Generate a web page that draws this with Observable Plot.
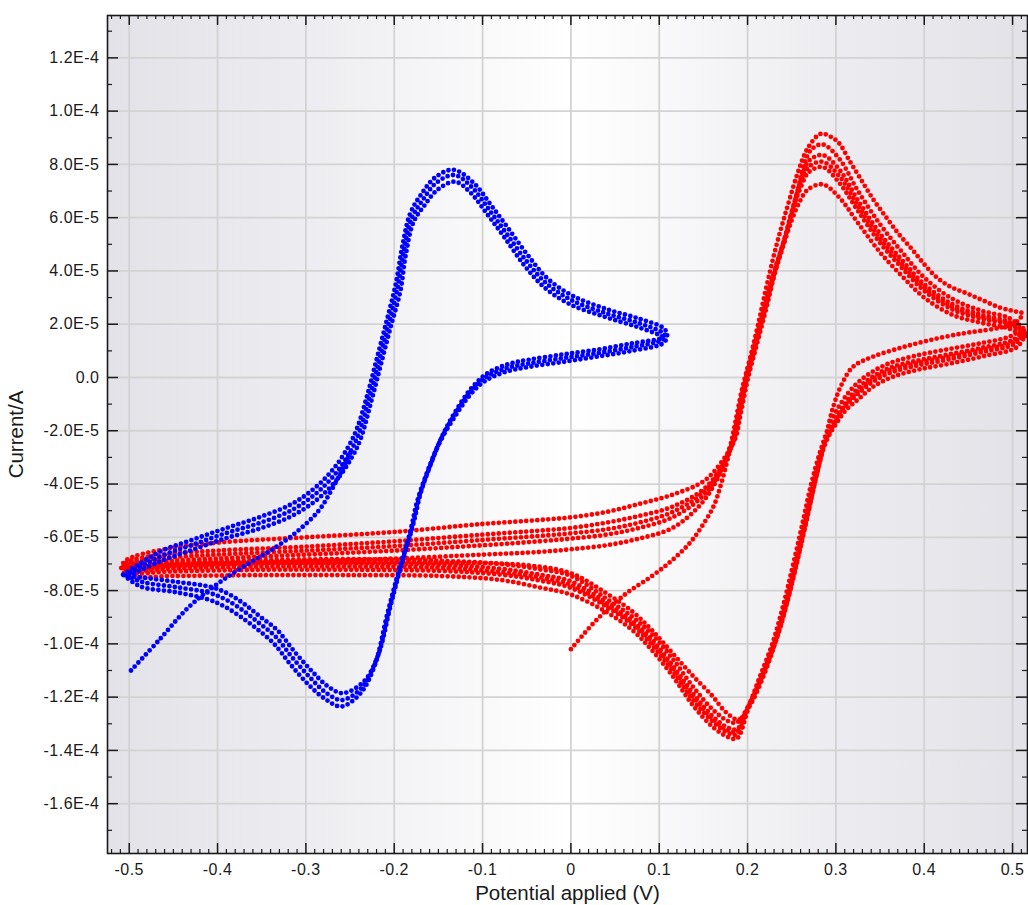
<!DOCTYPE html>
<html>
<head>
<meta charset="utf-8">
<script src="https://cdn.jsdelivr.net/npm/d3@7"></script>
<script src="https://cdn.jsdelivr.net/npm/@observablehq/plot@0.6"></script>
<style>
  body { margin: 0; background: #ffffff; }
  #chart svg { display: block; }
</style>
</head>
<body>
<div id="chart"></div>
<script>
// ---------- DATA (potential in V, current in units of 1E-5 A) ----------
// Blue voltammogram
const blueStart = [[-0.498,-11.0],[-0.466,-9.85],[-0.432,-8.6],[-0.398,-7.7],[-0.364,-6.97],[-0.334,-6.37],[-0.308,-5.73],[-0.285,-4.98],[-0.271,-4.23],[-0.259,-3.47],[-0.248,-2.7]];
const blueCycleA = [[-0.504,-7.42],[-0.466,-6.74],[-0.429,-6.29],[-0.390,-5.84],[-0.353,-5.47],[-0.316,-4.98],[-0.288,-4.34],[-0.266,-3.59],[-0.250,-2.8],[-0.240,-2.09],[-0.228,-0.74],[-0.217,0.64],[-0.206,2.04],[-0.196,3.39],[-0.189,4.78],[-0.180,6.0],[-0.168,6.65],[-0.153,7.29],[-0.132,7.6],[-0.112,7.14],[-0.092,6.27],[-0.073,5.41],[-0.051,4.40],[-0.028,3.54],[0.001,2.90],[0.040,2.41],[0.077,2.04],[0.103,1.70],[0.107,1.55],[0.103,1.40],[0.069,1.14],[0.029,0.91],[-0.010,0.72],[-0.047,0.53],[-0.073,0.35],[-0.096,0.01],[-0.112,-0.48],[-0.126,-1.11],[-0.146,-2.24],[-0.160,-3.36],[-0.172,-4.49],[-0.180,-5.62],[-0.194,-7.23],[-0.206,-8.73],[-0.220,-10.60],[-0.236,-11.62],[-0.259,-12.11],[-0.277,-11.84],[-0.296,-11.24],[-0.316,-10.49],[-0.334,-9.74],[-0.353,-9.22],[-0.372,-8.73],[-0.390,-8.35],[-0.409,-8.09],[-0.447,-7.87],[-0.485,-7.68],[-0.504,-7.42]];
const blueCycleB = [[-0.507,-7.4],[-0.466,-6.55],[-0.429,-6.1],[-0.390,-5.65],[-0.353,-5.25],[-0.316,-4.75],[-0.290,-4.15],[-0.268,-3.4],[-0.252,-2.6],[-0.242,-1.9],[-0.230,-0.6],[-0.219,0.8],[-0.208,2.2],[-0.198,3.55],[-0.191,4.9],[-0.182,6.15],[-0.170,6.85],[-0.154,7.5],[-0.133,7.8],[-0.110,7.3],[-0.090,6.45],[-0.071,5.6],[-0.049,4.6],[-0.026,3.7],[0.003,3.05],[0.042,2.55],[0.078,2.2],[0.105,1.85],[0.109,1.6],[0.105,1.3],[0.069,1.0],[0.029,0.78],[-0.010,0.58],[-0.047,0.4],[-0.075,0.2],[-0.098,-0.15],[-0.114,-0.65],[-0.128,-1.3],[-0.148,-2.4],[-0.162,-3.5],[-0.174,-4.65],[-0.182,-5.8],[-0.196,-7.4],[-0.208,-8.9],[-0.222,-10.8],[-0.238,-11.85],[-0.260,-12.35],[-0.279,-12.05],[-0.298,-11.5],[-0.318,-10.75],[-0.336,-10.0],[-0.355,-9.45],[-0.374,-8.98],[-0.392,-8.6],[-0.411,-8.33],[-0.449,-8.05],[-0.487,-7.85],[-0.507,-7.4]];
const blueCycleC = [[-0.500,-7.45],[-0.466,-6.92],[-0.429,-6.48],[-0.390,-6.03],[-0.353,-5.68],[-0.316,-5.2],[-0.286,-4.55],[-0.264,-3.8],[-0.248,-3.0],[-0.238,-2.3],[-0.226,-0.9],[-0.215,0.5],[-0.204,1.9],[-0.193,3.25],[-0.187,4.6],[-0.178,5.85],[-0.166,6.45],[-0.151,7.05],[-0.131,7.35],[-0.114,6.95],[-0.094,6.1],[-0.075,5.25],[-0.053,4.22],[-0.030,3.38],[-0.001,2.75],[0.038,2.28],[0.075,1.9],[0.101,1.58],[0.104,1.5],[0.101,1.45],[0.069,1.28],[0.029,1.04],[-0.010,0.86],[-0.047,0.67],[-0.071,0.5],[-0.094,0.17],[-0.110,-0.3],[-0.124,-0.92],[-0.144,-2.08],[-0.158,-3.2],[-0.170,-4.33],[-0.178,-5.45],[-0.192,-7.05],[-0.204,-8.55],[-0.218,-10.4],[-0.234,-11.4],[-0.258,-11.85],[-0.275,-11.6],[-0.294,-11.0],[-0.314,-10.25],[-0.332,-9.5],[-0.351,-9.0],[-0.370,-8.5],[-0.388,-8.12],[-0.407,-7.87],[-0.445,-7.68],[-0.483,-7.52],[-0.500,-7.45]];

// Red voltammogram
const redFirst = [[0.000,-10.2],[0.032,-9.0],[0.063,-8.1],[0.092,-7.45],[0.115,-6.85],[0.135,-6.2],[0.150,-5.5],[0.162,-4.8],[0.170,-4.0],[0.178,-3.0],[0.185,-2.0],[0.192,-0.8],[0.202,0.6],[0.212,2.0],[0.222,3.5],[0.233,5.0],[0.245,6.4],[0.257,7.7],[0.268,8.6],[0.283,9.15],[0.296,9.0],[0.304,8.78],[0.316,8.1],[0.327,7.51],[0.342,6.7],[0.357,6.01],[0.372,5.35],[0.387,4.78],[0.400,4.25],[0.414,3.76],[0.430,3.4],[0.448,3.16],[0.466,2.9],[0.485,2.63],[0.500,2.5],[0.511,2.4],[0.505,2.1],[0.490,1.9],[0.470,1.78],[0.443,1.65],[0.406,1.40],[0.372,1.10],[0.341,0.77],[0.319,0.39],[0.306,-0.3],[0.297,-1.1],[0.288,-2.3],[0.278,-3.7],[0.267,-5.3],[0.256,-6.9],[0.245,-8.4],[0.232,-9.9],[0.217,-11.3],[0.203,-12.3],[0.190,-12.85],[0.175,-12.55],[0.160,-11.95],[0.138,-11.2],[0.115,-10.35],[0.092,-9.5],[0.070,-8.8],[0.040,-8.1],[0.000,-7.35],[-0.050,-7.05],[-0.150,-6.95],[-0.300,-6.95],[-0.450,-7.0],[-0.505,-7.2]];
const redCycleA = [[0.512,1.85],[0.495,2.25],[0.465,2.5],[0.432,2.95],[0.400,3.75],[0.375,4.7],[0.350,5.75],[0.325,7.0],[0.304,8.2],[0.285,8.75],[0.272,8.55],[0.264,8.0],[0.256,6.9],[0.245,5.5],[0.233,4.2],[0.222,2.7],[0.211,1.3],[0.200,-0.1],[0.192,-1.4],[0.186,-2.3],[0.170,-3.2],[0.150,-3.9],[0.115,-4.4],[0.077,-4.75],[0.040,-5.05],[0.000,-5.25],[-0.036,-5.35],[-0.100,-5.5],[-0.200,-5.8],[-0.300,-6.0],[-0.400,-6.2],[-0.460,-6.45],[-0.503,-6.85],[-0.509,-7.15],[-0.500,-7.45],[-0.450,-7.45],[-0.350,-7.42],[-0.250,-7.42],[-0.150,-7.45],[-0.080,-7.6],[-0.036,-7.88],[0.000,-8.15],[0.040,-8.8],[0.070,-9.5],[0.092,-10.25],[0.115,-11.2],[0.138,-12.3],[0.160,-13.1],[0.178,-13.5],[0.188,-13.55],[0.200,-12.5],[0.212,-11.4],[0.228,-10.0],[0.240,-8.6],[0.251,-7.1],[0.262,-5.5],[0.272,-4.0],[0.283,-2.7],[0.294,-1.7],[0.306,-0.95],[0.320,-0.35],[0.336,0.1],[0.358,0.5],[0.388,0.8],[0.425,1.05],[0.463,1.28],[0.498,1.55],[0.512,1.85]];
const redCycleB = [[0.513,1.75],[0.495,2.1],[0.465,2.35],[0.432,2.75],[0.400,3.5],[0.375,4.4],[0.350,5.4],[0.325,6.65],[0.304,7.8],[0.285,8.35],[0.270,8.15],[0.262,7.6],[0.254,6.7],[0.243,5.35],[0.231,4.0],[0.220,2.6],[0.209,1.2],[0.198,-0.2],[0.190,-1.5],[0.184,-2.4],[0.170,-3.4],[0.150,-4.2],[0.115,-4.85],[0.077,-5.2],[0.040,-5.45],[0.000,-5.65],[-0.036,-5.75],[-0.100,-5.9],[-0.200,-6.15],[-0.300,-6.35],[-0.400,-6.5],[-0.460,-6.65],[-0.503,-6.95],[-0.507,-7.15],[-0.500,-7.32],[-0.450,-7.28],[-0.350,-7.22],[-0.250,-7.22],[-0.150,-7.26],[-0.080,-7.4],[-0.036,-7.62],[0.000,-7.9],[0.040,-8.6],[0.070,-9.3],[0.092,-10.05],[0.115,-11.0],[0.138,-12.1],[0.160,-12.9],[0.178,-13.35],[0.188,-13.4],[0.201,-12.4],[0.214,-11.3],[0.230,-9.9],[0.242,-8.5],[0.253,-7.0],[0.264,-5.4],[0.274,-3.9],[0.285,-2.6],[0.296,-1.8],[0.308,-1.1],[0.322,-0.5],[0.338,-0.05],[0.360,0.35],[0.390,0.62],[0.425,0.85],[0.463,1.1],[0.500,1.4],[0.513,1.75]];
const redCycleE = [[0.513,1.7],[0.495,2.05],[0.465,2.28],[0.432,2.65],[0.400,3.38],[0.375,4.25],[0.350,5.22],[0.325,6.45],[0.304,7.55],[0.285,8.1],[0.269,7.9],[0.261,7.4],[0.253,6.55],[0.242,5.2],[0.230,3.9],[0.219,2.55],[0.208,1.15],[0.197,-0.25],[0.189,-1.55],[0.183,-2.45],[0.169,-3.5],[0.149,-4.35],[0.115,-5.05],[0.077,-5.45],[0.040,-5.7],[0.000,-5.85],[-0.036,-5.95],[-0.100,-6.1],[-0.200,-6.33],[-0.300,-6.5],[-0.400,-6.65],[-0.460,-6.78],[-0.504,-7.0],[-0.506,-7.12],[-0.500,-7.25],[-0.450,-7.17],[-0.350,-7.1],[-0.250,-7.1],[-0.150,-7.14],[-0.080,-7.3],[-0.036,-7.5],[0.000,-7.78],[0.040,-8.52],[0.070,-9.22],[0.092,-9.95],[0.115,-10.9],[0.138,-11.97],[0.160,-12.8],[0.178,-13.25],[0.188,-13.3],[0.201,-12.35],[0.215,-11.25],[0.231,-9.85],[0.243,-8.45],[0.254,-6.95],[0.265,-5.35],[0.275,-3.85],[0.286,-2.55],[0.297,-1.78],[0.309,-1.1],[0.323,-0.58],[0.339,-0.12],[0.361,0.27],[0.391,0.53],[0.426,0.76],[0.464,1.02],[0.501,1.32],[0.513,1.7]];
const redCycleC = [[0.514,1.65],[0.495,2.0],[0.465,2.2],[0.432,2.55],[0.400,3.25],[0.375,4.1],[0.350,5.05],[0.325,6.25],[0.304,7.3],[0.285,7.9],[0.269,7.7],[0.261,7.2],[0.252,6.4],[0.241,5.1],[0.229,3.85],[0.218,2.5],[0.207,1.1],[0.196,-0.3],[0.188,-1.6],[0.182,-2.5],[0.168,-3.6],[0.148,-4.5],[0.115,-5.25],[0.077,-5.65],[0.040,-5.9],[0.000,-6.05],[-0.036,-6.15],[-0.100,-6.3],[-0.200,-6.5],[-0.300,-6.65],[-0.400,-6.8],[-0.460,-6.9],[-0.503,-7.05],[-0.505,-7.12],[-0.500,-7.2],[-0.450,-7.08],[-0.350,-6.98],[-0.250,-6.98],[-0.150,-7.03],[-0.080,-7.18],[-0.036,-7.4],[0.000,-7.65],[0.040,-8.45],[0.070,-9.15],[0.092,-9.85],[0.115,-10.8],[0.138,-11.85],[0.160,-12.7],[0.178,-13.15],[0.188,-13.2],[0.202,-12.3],[0.216,-11.2],[0.232,-9.8],[0.244,-8.4],[0.255,-6.9],[0.266,-5.3],[0.276,-3.8],[0.287,-2.5],[0.298,-1.75],[0.310,-1.1],[0.324,-0.65],[0.340,-0.2],[0.362,0.18],[0.392,0.45],[0.427,0.67],[0.465,0.95],[0.502,1.25],[0.514,1.65]];
const redCycleD = [[0.514,1.55],[0.495,1.85],[0.465,2.05],[0.432,2.35],[0.400,3.0],[0.375,3.8],[0.350,4.7],[0.325,5.8],[0.304,6.75],[0.285,7.25],[0.268,7.05],[0.259,6.6],[0.250,5.9],[0.239,4.8],[0.228,3.6],[0.216,2.3],[0.205,0.95],[0.194,-0.4],[0.186,-1.7],[0.180,-2.6],[0.166,-3.8],[0.146,-4.8],[0.115,-5.65],[0.077,-6.05],[0.040,-6.3],[0.000,-6.45],[-0.036,-6.55],[-0.100,-6.65],[-0.200,-6.8],[-0.300,-6.9],[-0.400,-7.0],[-0.460,-7.05],[-0.505,-7.1],[-0.450,-6.98],[-0.350,-6.86],[-0.250,-6.82],[-0.150,-6.88],[-0.080,-7.0],[-0.036,-7.2],[0.000,-7.45],[0.040,-8.3],[0.070,-9.0],[0.092,-9.65],[0.115,-10.55],[0.138,-11.6],[0.160,-12.45],[0.178,-12.9],[0.188,-12.95],[0.203,-12.2],[0.218,-11.1],[0.234,-9.7],[0.246,-8.3],[0.257,-6.8],[0.268,-5.2],[0.278,-3.7],[0.289,-2.4],[0.300,-1.75],[0.312,-1.2],[0.326,-0.8],[0.342,-0.35],[0.364,0.02],[0.394,0.3],[0.429,0.52],[0.467,0.8],[0.504,1.12],[0.514,1.55]];

// Axis ticks and labels
const xTicks = [-0.5, -0.4, -0.3, -0.2, -0.1, 0, 0.1, 0.2, 0.3, 0.4, 0.5];
const xTickLabels = ["-0.5", "-0.4", "-0.3", "-0.2", "-0.1", "0", "0.1", "0.2", "0.3", "0.4", "0.5"];
const yTicks = [1.2e-4, 1.0e-4, 8.0e-5, 6.0e-5, 4.0e-5, 2.0e-5, 0, -2.0e-5, -4.0e-5, -6.0e-5, -8.0e-5, -1.0e-4, -1.2e-4, -1.4e-4, -1.6e-4];
const yTickLabels = ["1.2E-4", "1.0E-4", "8.0E-5", "6.0E-5", "4.0E-5", "2.0E-5", "0.0", "-2.0E-5", "-4.0E-5", "-6.0E-5", "-8.0E-5", "-1.0E-4", "-1.2E-4", "-1.4E-4", "-1.6E-4"];
const xLabel = "Potential applied (V)";
const yLabel = "Current/A";

// ---------- BUILD ----------
const toRows = (pts, id) => pts.map(([v, i]) => ({V: v, I: i * 1e-5, id}));
const redRows = [
  ...toRows(redCycleD, "rD"), ...toRows(redCycleC, "rC"), ...toRows(redCycleE, "rE"),
  ...toRows(redCycleB, "rB"), ...toRows(redCycleA, "rA"), ...toRows(redFirst, "r0")
];
const blueRows = [
  ...toRows(blueCycleC, "bC"), ...toRows(blueCycleA, "bA"), ...toRows(blueCycleB, "bB"),
  ...toRows(blueStart, "b0")
];

const W = 1028, H = 905;
const mL = 107, mR = 1, mT = 15, mB = 52;
const fw = W - mL - mR, fh = H - mT - mB;

const xMinor = d3.range(-52, 52).map(k => k / 100).filter(v => Math.abs(Math.round(v * 10) - v * 10) > 1e-6);
const yMinor = d3.range(-17, 14, 2).map(k => k * 1e-5);

const xFmt = new Map(xTicks.map((t, i) => [t, xTickLabels[i]]));
const yFmt = new Map(yTicks.map((t, i) => [t, yTickLabels[i]]));

const dotted = (rows, color) => Plot.line(rows, {
  x: "V", y: "I", z: "id", stroke: color, strokeWidth: 4.8,
  strokeDasharray: "0 5.5", strokeLinecap: "round", curve: "catmull-rom"
});

const tickColor = "#1a1a1a";

const chart = Plot.plot({
  width: W, height: H,
  marginLeft: mL, marginRight: mR, marginTop: mT, marginBottom: mB,
  style: {fontFamily: "'Liberation Sans', Arial, sans-serif", fontSize: "16px", color: "#1a1a1a", background: "#ffffff"},
  x: {domain: [-0.5246, 0.5169]},
  y: {domain: [-1.787e-4, 1.359e-4]},
  marks: [
    Plot.frame({fill: "url(#bgGrad)", stroke: "none"}),
    Plot.gridX(xTicks, {stroke: "#d3d3d3", strokeOpacity: 1, strokeWidth: 1.8}),
    Plot.gridY(yTicks, {stroke: "#d3d3d3", strokeOpacity: 1, strokeWidth: 1.8}),
    dotted(redRows, "#ff0000"),
    dotted(blueRows, "#0000ff"),
    // inward ticks: bottom & top
    Plot.tickX(xTicks, {x: d => d, insetTop: fh - 10, stroke: tickColor, strokeWidth: 1.5}),
    Plot.tickX(xMinor, {x: d => d, insetTop: fh - 4, stroke: tickColor, strokeWidth: 1.2}),
    Plot.tickX(xTicks, {x: d => d, insetBottom: fh - 10, stroke: tickColor, strokeWidth: 1.5}),
    Plot.tickX(xMinor, {x: d => d, insetBottom: fh - 4, stroke: tickColor, strokeWidth: 1.2}),
    // inward ticks: left & right
    Plot.tickY(yTicks, {y: d => d, insetRight: fw - 11, stroke: tickColor, strokeWidth: 1.5}),
    Plot.tickY(yMinor, {y: d => d, insetRight: fw - 5, stroke: tickColor, strokeWidth: 1.2}),
    Plot.tickY(yTicks, {y: d => d, insetLeft: fw - 11, stroke: tickColor, strokeWidth: 1.5}),
    Plot.tickY(yMinor, {y: d => d, insetLeft: fw - 5, stroke: tickColor, strokeWidth: 1.2}),
    Plot.frame({stroke: "#1a1a1a", strokeWidth: 1.6}),
    Plot.axisX(xTicks, {tickSize: 0, tickPadding: 10, tickFormat: d => xFmt.get(d), label: null, fill: "#1a1a1a"}),
    Plot.axisY(yTicks, {tickSize: 0, tickPadding: 8, tickFormat: d => yFmt.get(d), label: null, fill: "#1a1a1a"}),
    Plot.text([xLabel], {frameAnchor: "bottom", dy: 40, fontSize: 20.5, textAnchor: "middle", lineAnchor: "middle", fill: "#1a1a1a"}),
    Plot.text([yLabel], {frameAnchor: "left", dx: -91, rotate: -90, fontSize: 20.5, textAnchor: "middle", lineAnchor: "middle", fill: "#1a1a1a"})
  ]
});

const ns = "http://www.w3.org/2000/svg";
const defs = document.createElementNS(ns, "defs");
defs.innerHTML = '<linearGradient id="bgGrad" x1="0" x2="1" y1="0" y2="0">' +
  '<stop offset="0" stop-color="#e2e2e8"/>' +
  '<stop offset="0.2" stop-color="#ececf0"/>' +
  '<stop offset="0.5" stop-color="#ffffff"/>' +
  '<stop offset="0.8" stop-color="#ececf0"/>' +
  '<stop offset="1" stop-color="#e2e2e8"/></linearGradient>';
chart.insertBefore(defs, chart.firstChild);
chart.querySelectorAll('g[aria-label="x-axis tick label"], g[aria-label="y-axis tick label"]').forEach(g => g.setAttribute("letter-spacing", "0.5"));

document.getElementById("chart").appendChild(chart);
</script>
</body>
</html>
